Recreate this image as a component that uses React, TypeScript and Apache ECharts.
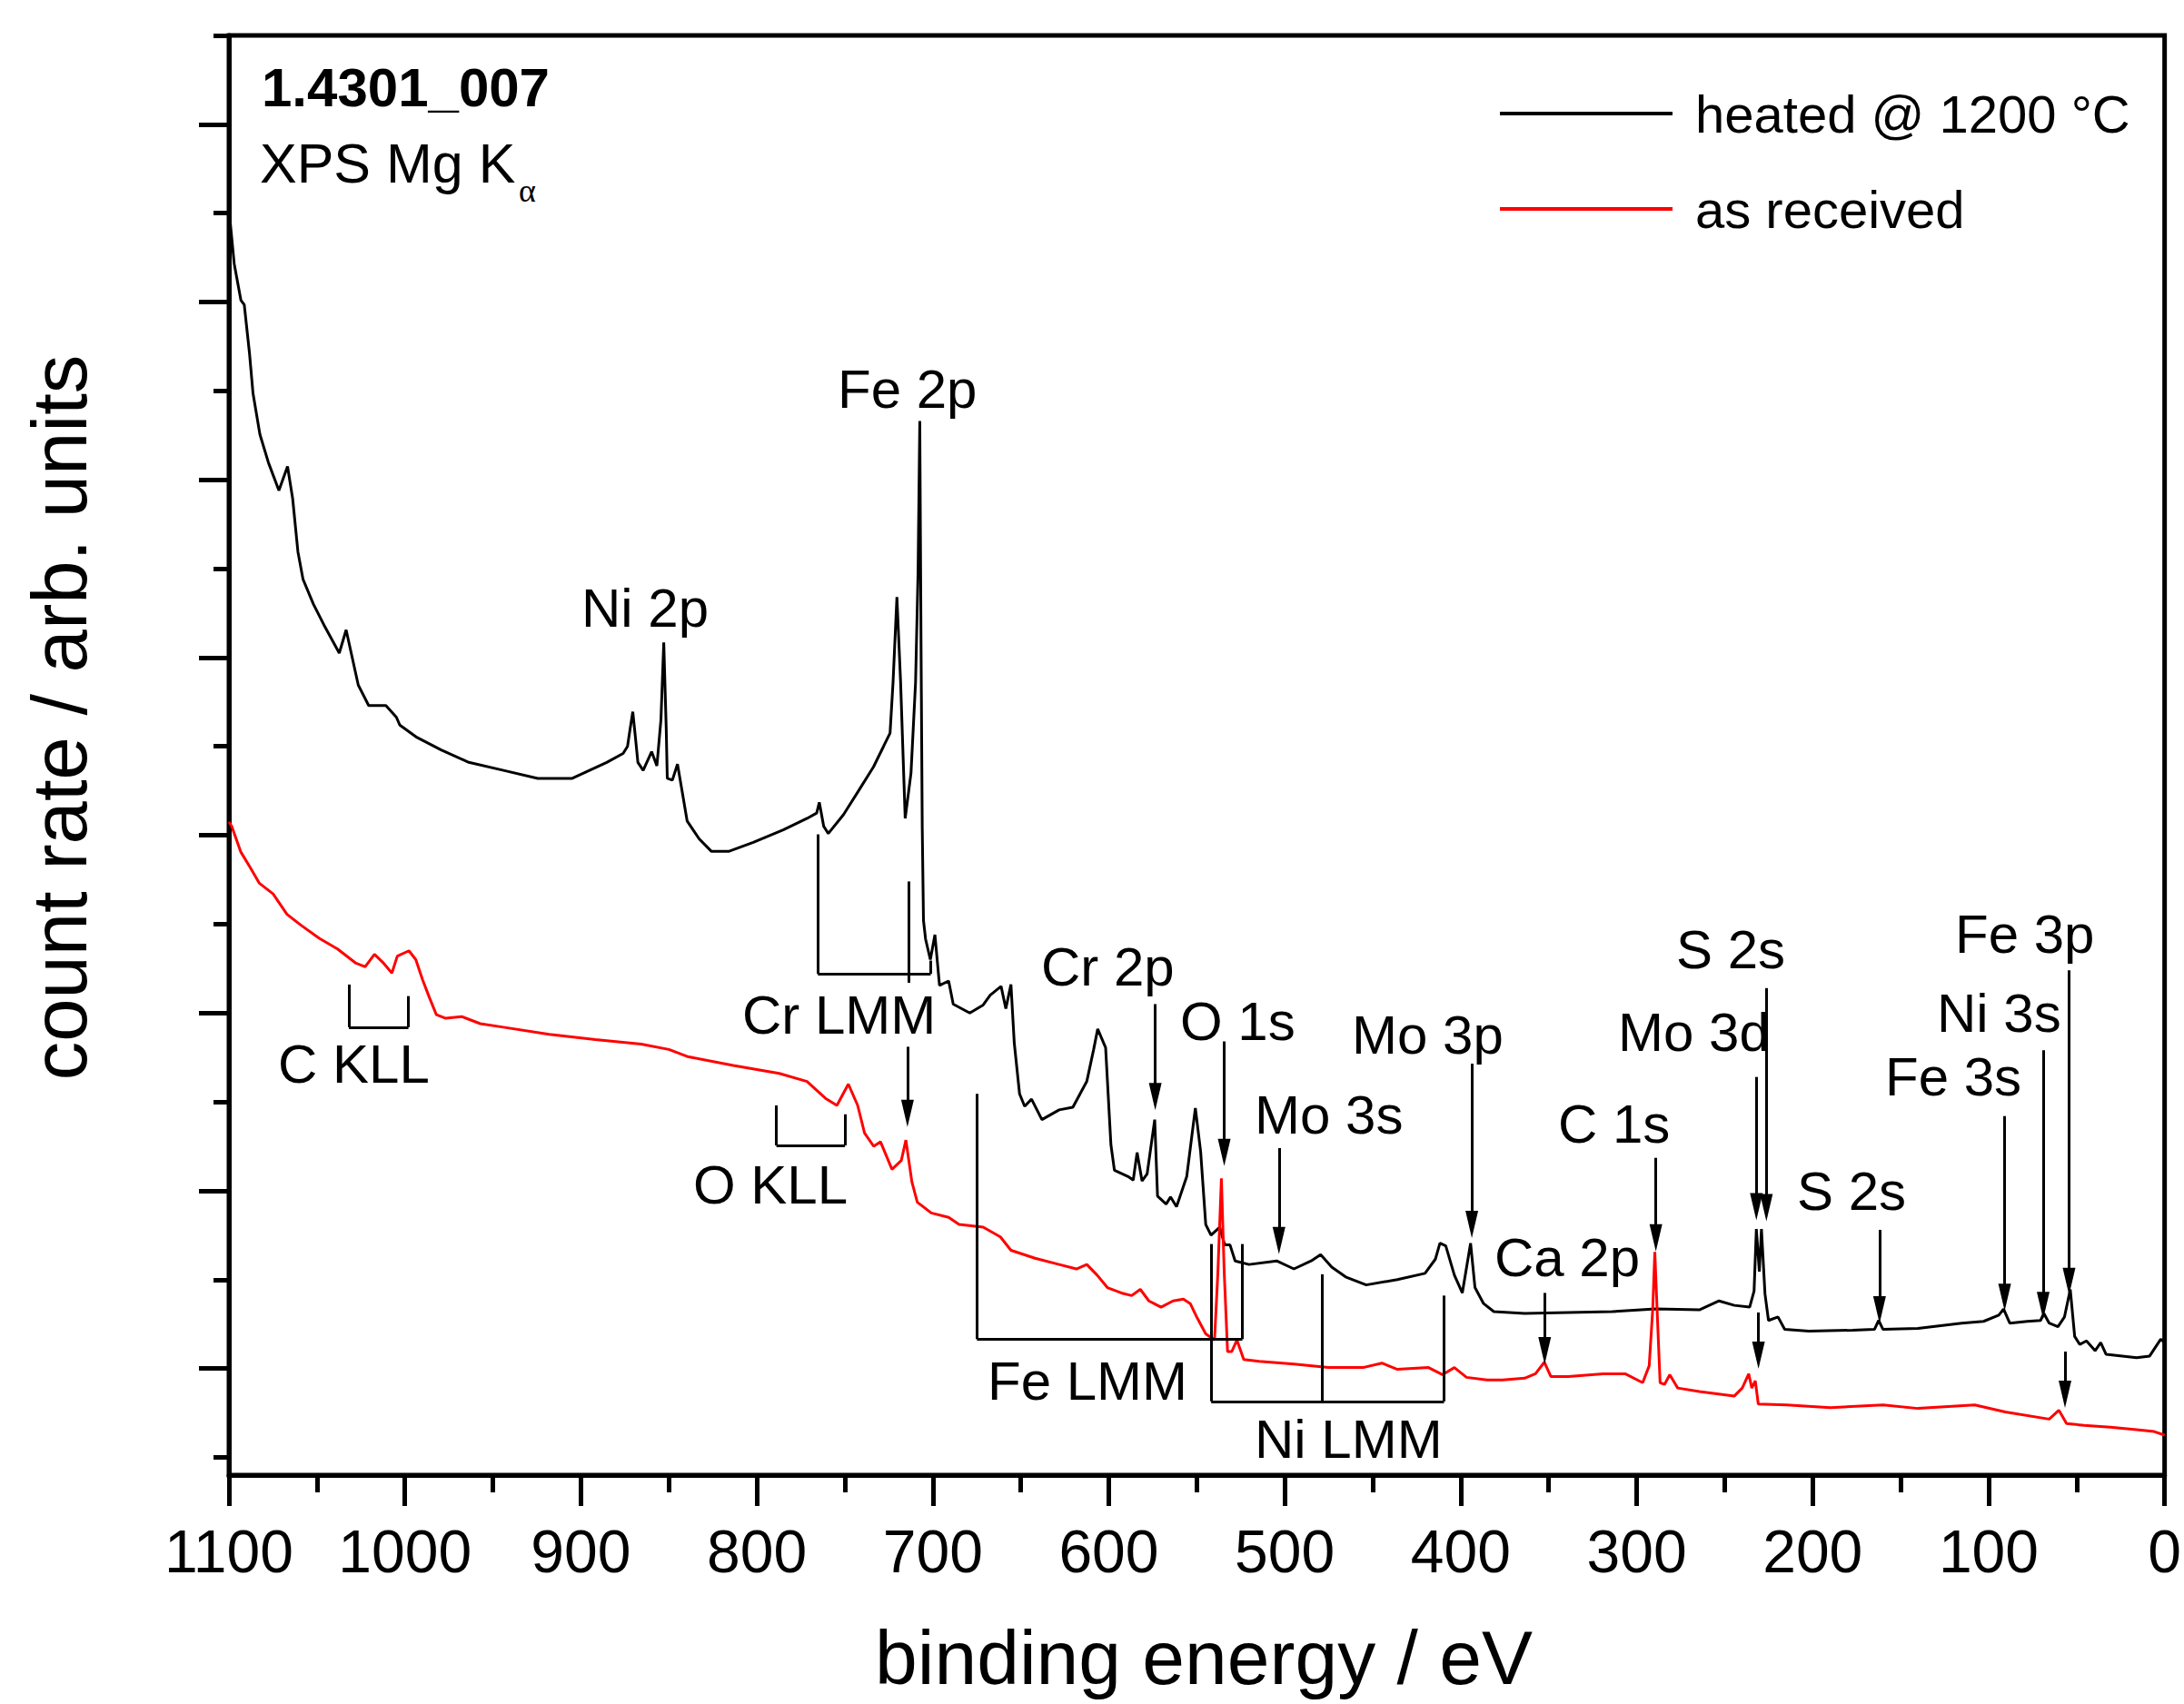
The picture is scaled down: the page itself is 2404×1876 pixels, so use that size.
import React, { useEffect, useRef } from "react";
import * as echarts from "echarts";

// ---------- data (binding energy in eV, count rate in arb. units) ----------
const seriesNames = ["heated @ 1200 °C", "as received"];

const heatedEnergy = [
  1100, 1097, 1093.2, 1091.3, 1088.3, 1086.3, 1082.4, 1077.5, 1071.6, 1066.7, 1063.8, 1060.8, 1057.9, 1052, 1046.1,
  1037.3, 1033.4, 1026.5, 1020.6, 1010.8, 1004.9, 1002.9, 993.1, 979.4, 963.7, 944, 924.5, 904.9, 885.3, 876, 873.5,
  872, 870.5, 869, 867.6, 864.6, 859.8, 856.8, 854.5, 852.9, 851.5, 850.9, 848, 845.1, 842.5, 839.6, 832.8, 825.9,
  815.7, 802, 785, 771.4, 766, 764.5, 762, 759.4, 750.8, 742.2, 733.7, 728, 724.3, 722.6, 720.4, 718.3, 715.7,
  712.4, 709.8, 708.4, 707.4, 706.7, 706, 705.3, 704.1, 701.4, 698.8, 696.2, 691, 688.4, 679, 671.4, 667.4, 661.2,
  658.5, 655.6, 653.7, 650.7, 647.8, 643.9, 638, 628.2, 620.4, 612.5, 608.6, 606.3, 601.8, 598.8, 596.8, 589,
  586.1, 583.9, 581.1, 578.2, 573.9, 572.3, 567.4, 564.9, 561.5, 555.7, 550.8, 547.8, 544.9, 541.9, 537, 534.1,
  531.1, 528.2, 520.3, 504.6, 494.8, 485, 479.6, 473.3, 465.4, 453.7, 436, 420.3, 414.4, 411.8, 408.5, 403.6,
  399.1, 394.4, 391.9, 387, 381.2, 363.7, 338.9, 314, 289.2, 264.4, 253.2, 244.5, 235.8, 233.3, 232, 230.3,
  229.1, 227.1, 225.1, 219.7, 215.9, 202.2, 177.4, 164.9, 162.5, 160, 140.2, 115.3, 102.9, 94.2, 91.5, 88,
  78.1, 70.5, 68.6, 65.6, 60.6, 56.9, 53.6, 51.1, 48.2, 44.4, 39.5, 36.3, 33.3, 15.9, 8.5, 2.2, 0,
];
const heatedRate = [
  14.05, 13.43, 13.02, 12.97, 12.42, 11.97, 11.51, 11.19, 10.88, 11.15, 10.79, 10.19, 9.88, 9.6, 9.37,
  9.05, 9.31, 8.69, 8.46, 8.46, 8.33, 8.24, 8.1, 7.96, 7.82, 7.73, 7.64, 7.64, 7.82, 7.92, 8.0,
  8.2, 8.39, 8.1, 7.82, 7.73, 7.94, 7.78, 8.3, 9.17, 8.2, 7.64, 7.62, 7.8, 7.5, 7.16, 6.96, 6.82,
  6.82, 6.92, 7.06, 7.19, 7.25, 7.37, 7.1, 7.02, 7.23, 7.5, 7.77, 8.0, 8.15, 8.72, 9.68, 8.72, 7.19,
  7.7, 8.72, 9.95, 11.66, 9.16, 7.08, 6.04, 5.83, 5.6, 5.88, 5.31, 5.36, 5.1, 5.0, 5.09, 5.2, 5.3,
  5.05, 5.32, 4.66, 4.09, 3.95, 4.03, 3.8, 3.91, 3.94, 4.23, 4.59, 4.82, 4.61, 3.52, 3.23, 3.16,
  3.12, 3.43, 3.11, 3.19, 3.8, 2.94, 2.85, 2.93, 2.82, 3.16, 3.93, 3.44, 2.62, 2.5, 2.59, 2.39,
  2.39, 2.21, 2.17, 2.21, 2.12, 2.21, 2.28, 2.14, 2.03, 1.94, 2.0, 2.07, 2.23, 2.41, 2.38, 2.05,
  1.85, 2.41, 1.91, 1.73, 1.64, 1.62, 1.63, 1.64, 1.67, 1.66, 1.76, 1.71, 1.69, 1.87, 2.57, 2.09,
  2.57, 1.84, 1.54, 1.58, 1.44, 1.42, 1.43, 1.44, 1.54, 1.44, 1.45, 1.51, 1.53, 1.6, 1.67, 1.51,
  1.53, 1.54, 1.62, 1.51, 1.47, 1.58, 1.89, 1.36, 1.27, 1.31, 1.2, 1.29, 1.16, 1.12, 1.14, 1.33, 1.29,
];

const receivedEnergy = [
  1100, 1098.4, 1093.2, 1088, 1082.7, 1074.9, 1067, 1059.2, 1048.7, 1038.3, 1027.8, 1022.6, 1017.3, 1012.1,
  1007.4, 1004.3, 997.7, 993.8, 989.9, 986, 982.1, 976.8, 967.7, 957.2, 944.1, 918, 891.8, 865.7, 850, 839.5,
  813.4, 787.3, 771.5, 761, 754.5, 748, 742.7, 738.8, 733.6, 729.7, 723.2, 717.9, 715.3, 711.9, 708.8, 700.9,
  691, 685.1, 671.4, 661.6, 655.6, 641.9, 628.2, 618.4, 612.5, 606.6, 600.8, 592.9, 587, 582.1, 577.2, 570.3,
  563.5, 557.6, 553.7, 549.8, 544.9, 539.9, 538, 536, 534.4, 532.5, 530.1, 527.2, 523.3, 514.5, 494.8, 475.2,
  455.6, 444.8, 436, 418.3, 410.4, 403.6, 396.7, 385, 376.2, 363.7, 357.5, 352.5, 348.8, 338.9, 319, 306.6,
  296.6, 292.9, 290.9, 289.7, 288.4, 286.7, 284.2, 281.2, 276.7, 264.4, 244.5, 240, 236.3, 234.6, 232.6, 230.9,
  214.8, 189.9, 160, 140.2, 107.9, 90.5, 65.6, 60.1, 55.7, 45.7, 30.8, 15.9, 5.9, 0,
];
const receivedRate = [
  7.15, 7.1, 6.81, 6.64, 6.46, 6.34, 6.11, 5.99, 5.84, 5.72, 5.56, 5.52, 5.66, 5.56,
  5.45, 5.64, 5.7, 5.6, 5.37, 5.17, 4.98, 4.94, 4.96, 4.88, 4.84, 4.76, 4.7, 4.65, 4.59, 4.51,
  4.41, 4.32, 4.23, 4.04, 3.96, 4.2, 3.96, 3.65, 3.5, 3.55, 3.24, 3.34, 3.57, 3.1, 2.87, 2.75,
  2.7, 2.62, 2.59, 2.48, 2.33, 2.24, 2.17, 2.12, 2.17, 2.05, 1.91, 1.85, 1.82, 1.89, 1.76, 1.69,
  1.76, 1.78, 1.73, 1.57, 1.39, 1.32, 2.08, 3.14, 2.08, 1.19, 1.19, 1.32, 1.1, 1.08, 1.05, 1.01,
  1.01, 1.06, 0.99, 1.01, 0.93, 1.01, 0.9, 0.87, 0.87, 0.89, 0.94, 1.07, 0.91, 0.91, 0.94, 0.94,
  0.84, 1.03, 1.66, 2.31, 1.66, 0.84, 0.82, 0.93, 0.78, 0.74, 0.69, 0.78, 0.94, 0.78, 0.86, 0.6,
  0.59, 0.56, 0.59, 0.55, 0.59, 0.51, 0.43, 0.53, 0.38, 0.36, 0.34, 0.31, 0.29, 0.25,
];

// y-axis tick positions (arb. units)
const yMajorTicks = [1, 3, 5, 7, 9, 11, 13, 15];
const yMinorTicks = [0, 2, 4, 6, 8, 10, 12, 14, 16];

// peak-marker arrows: [energy, from value, energy, tip value]
const arrowMarks = [
  [714.4, 4.62, 714.4, 3.72],
  [573.6, 5.1, 573.6, 3.91],
  [534.4, 4.68, 534.4, 3.28],
  [503.3, 3.48, 503.3, 2.29],
  [393.7, 4.43, 393.7, 2.47],
  [352.3, 1.85, 352.3, 1.05],
  [289.1, 3.37, 289.1, 2.32],
  [232.0, 4.28, 232.0, 2.67],
  [226.3, 5.28, 226.3, 2.66],
  [230.8, 1.63, 230.8, 1.0],
  [162.0, 2.56, 162.0, 1.51],
  [90.9, 3.84, 90.9, 1.65],
  [69.0, 4.58, 69.0, 1.56],
  [54.3, 5.48, 54.3, 1.83],
  [56.6, 1.19, 56.6, 0.56],
];

// Auger brackets (energy, value polylines)
const bracketMarks = [
  [[765.3, 7.01], [765.3, 5.44], [701.2, 5.44], [701.2, 5.59]],
  [[713.8, 6.48], [713.8, 5.34]],
  [[1031.8, 5.32], [1031.8, 4.84], [998, 4.84], [998, 5.19]],
  [[788.9, 3.96], [788.9, 3.51], [749.9, 3.51], [749.9, 3.86]],
  [[674.9, 4.09], [674.9, 1.33], [524.1, 1.33], [524.1, 2.4]],
  [[541.8, 2.4], [541.8, 0.63], [409.5, 0.63], [409.5, 1.82]],
  [[478.8, 2.06], [478.8, 0.63]],
];

const peakLabelTexts = [
  "Ni 2p", "Fe 2p", "Cr LMM", "C KLL", "O KLL", "Fe LMM", "Ni LMM", "Cr 2p", "O 1s", "Mo 3s",
  "Mo 3p", "Ca 2p", "C 1s", "Mo 3d", "S 2s", "S 2s", "Fe 3s", "Ni 3s", "Fe 3p",
];

// ---------- layout ----------
const W = 2404;
const H = 1876;
const FONT = "'Liberation Sans', Arial, Helvetica, sans-serif";
// left x and baseline y (px) of each peak label
const peakLabelPos = [
  [640, 690], [922, 449], [817, 1138], [306, 1192], [763, 1325], [1087, 1541], [1381, 1605],
  [1146, 1085], [1299, 1145], [1381, 1248], [1488, 1160], [1645, 1405], [1715, 1258],
  [1781, 1157], [1845, 1066], [1978, 1332], [2075, 1206], [2132, 1136], [2152, 1049],
];

function zip(xs: number[], ys: number[]) {
  return xs.map((x, i) => [x, ys[i]]);
}

function buildMarkLines() {
  const data: any[] = [];
  bracketMarks.forEach((poly) => {
    for (let i = 0; i < poly.length - 1; i++) {
      data.push([
        { coord: poly[i], symbol: "none" },
        { coord: poly[i + 1], symbol: "none" },
      ]);
    }
  });
  arrowMarks.forEach(([x1, y1, x2, y2]) => {
    data.push([
      { coord: [x1, y1], symbol: "none" },
      { coord: [x2, y2 + 0.15], symbol: "triangle", symbolSize: [14, 30] },
    ]);
  });
  return data;
}

export default function App() {
  const ref = useRef<HTMLDivElement>(null);

  useEffect(() => {
    if (!ref.current) return;
    const chart = echarts.init(ref.current, undefined, { renderer: "svg", width: W, height: H });

    const labelFont = 60;
    const graphics: any[] = peakLabelTexts.map((t, i) => ({
      type: "text",
      x: peakLabelPos[i][0],
      y: peakLabelPos[i][1] - 0.3465 * labelFont,
      silent: true,
      style: {
        text: t,
        fontSize: labelFont,
        fontFamily: FONT,
        fill: "#000",
        align: "left",
        verticalAlign: "middle",
      },
    }));

    graphics.push(
      {
        type: "text",
        x: 288,
        y: 117 - 0.3465 * 60,
        style: { text: "1.4301_007", fontSize: 60, fontWeight: "bold", fontFamily: FONT, fill: "#000", align: "left", verticalAlign: "middle" },
      },
      {
        type: "text",
        x: 286,
        y: 201 - 0.3465 * 61,
        style: { text: "XPS Mg K", fontSize: 61, fontFamily: FONT, fill: "#000", align: "left", verticalAlign: "middle" },
      },
      {
        type: "text",
        x: 571,
        y: 222 - 0.34 * 36,
        style: { text: "α", fontSize: 36, fontFamily: "'Liberation Serif', 'DejaVu Serif', serif", fill: "#000", align: "left", verticalAlign: "middle" },
      },
      {
        type: "text",
        x: 65,
        y: 790,
        rotation: Math.PI / 2,
        style: { text: "count rate / arb. units", fontSize: 85, fontFamily: FONT, fill: "#000", align: "center", verticalAlign: "middle" },
      },
      {
        type: "text",
        x: 1325,
        y: 1825,
        style: { text: "binding energy / eV", fontSize: 84, fontFamily: FONT, fill: "#000", align: "center", verticalAlign: "middle" },
      }
    );

    const yCommon = {
      type: "value",
      min: -0.2,
      max: 16,
      position: "left",
      axisLabel: { show: false },
      splitLine: { show: false },
    };

    chart.setOption({
      animation: false,
      backgroundColor: "#fff",
      grid: {
        left: 252,
        right: 6,
        top: 39,
        bottom: 252,
        containLabel: false,
        show: true,
        borderColor: "#000",
        borderWidth: 5,
        backgroundColor: "transparent",
      },
      legend: {
        data: seriesNames,
        orient: "vertical",
        left: 1651,
        top: 86,
        padding: 0,
        itemWidth: 190,
        itemHeight: 4,
        itemGap: 27,
        icon: "rect",
        selectedMode: false,
        textStyle: {
          fontSize: 58,
          fontFamily: FONT,
          color: "#000",
          lineHeight: 58,
          padding: [20, 0, 0, 20],
        },
      },
      xAxis: {
        type: "value",
        min: 0,
        max: 1100,
        interval: 100,
        inverse: true,
        axisLine: { show: true, onZero: false, lineStyle: { color: "#000", width: 5 } },
        axisTick: { show: true, length: 34, lineStyle: { color: "#000", width: 5 } },
        minorTick: { show: true, splitNumber: 2, length: 19, lineStyle: { color: "#000", width: 5 } },
        axisLabel: {
          fontSize: 66,
          fontFamily: FONT,
          color: "#000",
          margin: 51,
          showMinLabel: true,
          showMaxLabel: true,
          formatter: (v: number) => String(v),
        },
        splitLine: { show: false },
        minorSplitLine: { show: false },
      },
      yAxis: [
        {
          ...yCommon,
          axisLine: { show: true, onZero: false, lineStyle: { color: "#000", width: 5 } },
          axisTick: { show: true, length: 33, customValues: yMajorTicks, lineStyle: { color: "#000", width: 5 } },
        },
        {
          ...yCommon,
          axisLine: { show: false, onZero: false },
          axisTick: { show: true, length: 17, customValues: yMinorTicks, lineStyle: { color: "#000", width: 5 } },
        },
      ],
      series: [
        {
          type: "line",
          name: seriesNames[0],
          data: zip(heatedEnergy, heatedRate),
          showSymbol: false,
          symbol: "none",
          color: "#000",
          lineStyle: { color: "#000", width: 3 },
          silent: true,
          z: 2,
          markLine: {
            silent: true,
            symbol: ["none", "none"],
            label: { show: false },
            emphasis: { disabled: true },
            lineStyle: { color: "#000", width: 3, type: "solid" },
            itemStyle: { color: "#000" },
            data: buildMarkLines(),
          },
        },
        {
          type: "line",
          name: seriesNames[1],
          data: zip(receivedEnergy, receivedRate),
          showSymbol: false,
          symbol: "none",
          color: "#ff0000",
          lineStyle: { color: "#ff0000", width: 3 },
          silent: true,
          z: 3,
        },
      ],
      graphic: graphics,
    });

    return () => {
      chart.dispose();
    };
  }, []);

  return (
    <div
      ref={ref}
      style={{ position: "fixed", left: 0, top: 0, width: W, height: H, background: "#fff" }}
    />
  );
}
